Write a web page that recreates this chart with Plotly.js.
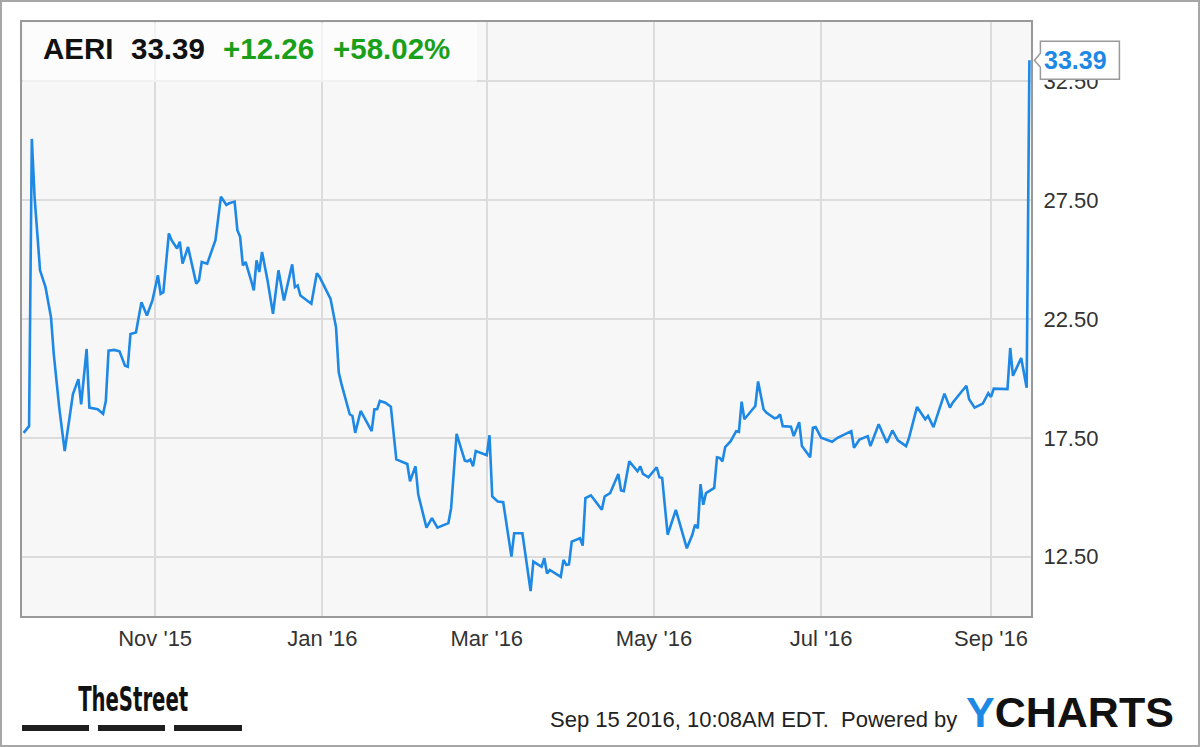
<!DOCTYPE html>
<html>
<head>
<meta charset="utf-8">
<script src="https://cdn.plot.ly/plotly-3.0.1.min.js"></script>
<style>
html,body{margin:0;padding:0;background:#fff;}
#chart{width:1200px;height:747px;}
</style>
</head>
<body>
<div id="chart"></div>
<script>
// ---------------- data ----------------
const dates = [
'2015-09-14','2015-09-16','2015-09-17','2015-09-18','2015-09-20','2015-09-22','2015-09-24','2015-09-25','2015-09-27','2015-09-29',
'2015-10-02','2015-10-04','2015-10-05','2015-10-07','2015-10-08','2015-10-11','2015-10-13','2015-10-14','2015-10-15','2015-10-17',
'2015-10-19','2015-10-21','2015-10-22','2015-10-23','2015-10-25','2015-10-27','2015-10-29','2015-10-31','2015-11-02','2015-11-03',
'2015-11-04','2015-11-06','2015-11-07','2015-11-09','2015-11-10','2015-11-11','2015-11-13','2015-11-14','2015-11-16','2015-11-17',
'2015-11-18','2015-11-20','2015-11-22','2015-11-23','2015-11-25','2015-11-27','2015-11-28','2015-11-30','2015-12-01','2015-12-02',
'2015-12-03','2015-12-04','2015-12-06','2015-12-07','2015-12-08','2015-12-09','2015-12-10','2015-12-12','2015-12-14','2015-12-16',
'2015-12-18','2015-12-21','2015-12-22','2015-12-23','2015-12-24','2015-12-28','2015-12-30','2015-12-31','2016-01-04','2016-01-06',
'2016-01-07','2016-01-08','2016-01-11','2016-01-12','2016-01-13','2016-01-15','2016-01-19','2016-01-20','2016-01-21','2016-01-22',
'2016-01-24','2016-01-26','2016-01-28','2016-02-01','2016-02-02','2016-02-04','2016-02-05','2016-02-08','2016-02-10','2016-02-12',
'2016-02-16','2016-02-17','2016-02-19','2016-02-22','2016-02-23','2016-02-24','2016-02-25','2016-02-26','2016-03-01','2016-03-02',
'2016-03-03','2016-03-05','2016-03-07','2016-03-10','2016-03-11','2016-03-14','2016-03-17','2016-03-18','2016-03-21','2016-03-22',
'2016-03-23','2016-03-24','2016-03-28','2016-03-29','2016-03-30','2016-03-31','2016-04-01','2016-04-04','2016-04-05','2016-04-06',
'2016-04-08','2016-04-12','2016-04-13','2016-04-15','2016-04-18','2016-04-19','2016-04-20','2016-04-22','2016-04-25','2016-04-26',
'2016-04-27','2016-04-29','2016-05-02','2016-05-03','2016-05-04','2016-05-06','2016-05-09','2016-05-13','2016-05-15','2016-05-16',
'2016-05-17','2016-05-18','2016-05-19','2016-05-20','2016-05-23','2016-05-24','2016-05-25','2016-05-26','2016-05-27','2016-05-29',
'2016-05-31','2016-06-01','2016-06-02','2016-06-03','2016-06-06','2016-06-07','2016-06-08','2016-06-09','2016-06-10','2016-06-11',
'2016-06-14','2016-06-15','2016-06-16','2016-06-17','2016-06-20','2016-06-21','2016-06-23','2016-06-24','2016-06-27','2016-06-28',
'2016-06-29','2016-07-01','2016-07-05','2016-07-07','2016-07-12','2016-07-13','2016-07-15','2016-07-18','2016-07-19','2016-07-22',
'2016-07-25','2016-07-27','2016-07-29','2016-08-01','2016-08-02','2016-08-05','2016-08-08','2016-08-09','2016-08-11','2016-08-15',
'2016-08-17','2016-08-18','2016-08-23','2016-08-24','2016-08-26','2016-08-29','2016-08-31','2016-09-01','2016-09-02','2016-09-07',
'2016-09-08','2016-09-09','2016-09-12','2016-09-14','2016-09-15'
];
const prices = [
17.71,17.99,30.08,27.65,24.55,23.84,22.57,21.03,18.77,16.94,
19.34,19.97,18.91,21.24,18.77,18.70,18.51,19.05,21.17,21.20,
21.14,20.53,20.49,21.87,21.93,23.21,22.65,23.28,24.34,23.56,
23.63,26.10,25.82,25.47,25.75,24.83,25.53,24.97,23.99,24.13,
24.90,24.83,25.53,25.82,27.65,27.30,27.37,27.44,26.24,25.96,
24.76,24.90,24.13,23.70,24.97,24.48,25.32,24.13,22.72,24.55,
23.28,24.80,23.84,23.91,23.49,23.14,24.43,24.27,23.35,22.15,
20.25,19.76,18.49,18.42,17.71,18.63,17.78,18.70,18.70,19.05,
18.98,18.81,16.59,16.40,15.67,16.30,15.11,13.72,14.12,13.72,
13.91,14.54,17.67,16.54,16.51,16.59,16.30,16.94,16.77,17.61,
15.03,14.82,14.79,12.50,13.48,13.48,11.05,12.29,12.07,12.43,
11.79,11.94,11.65,12.36,12.15,12.17,13.13,13.27,12.96,14.96,
15.08,14.47,15.03,15.17,15.98,15.28,15.25,16.51,16.09,16.30,
15.98,15.84,16.26,15.84,15.81,13.42,14.47,12.85,13.42,13.84,
13.69,15.55,14.68,15.17,15.39,16.68,16.65,16.51,17.11,17.36,
17.78,17.75,19.02,18.28,18.70,18.84,19.87,19.34,18.70,18.56,
18.32,18.35,18.49,17.99,17.97,17.57,18.16,17.15,16.68,17.92,
17.95,17.50,17.33,17.50,17.78,17.08,17.43,17.57,17.15,18.07,
17.29,17.81,17.39,17.15,17.47,18.80,18.28,18.42,17.95,19.36,
18.77,18.98,19.69,19.12,18.77,18.94,19.38,19.22,19.57,19.55,
21.28,20.11,20.86,19.61,33.39
];
const xTickVals = ['2015-11-01','2016-01-01','2016-03-01','2016-05-01','2016-07-01','2016-09-01'];
const xTickText = ["Nov '15","Jan '16","Mar '16","May '16","Jul '16","Sep '16"];
const yTickVals = [12.5,17.5,22.5,27.5,32.5];
const yTickText = ['12.50','17.50','22.50','27.50','32.50'];
const ticker = 'AERI';
const lastPrice = '33.39';
const changeAbs = '+12.26';
const changePct = '+58.02%';
const footerText = 'Sep 15 2016, 10:08AM EDT.  Powered by';

// ---------------- layout helpers ----------------
const W = 1200, H = 747;
const PL = 22, PT = 22, PW = 1009, PH = 594;
const px = x => (x - PL) / PW;
const py = y => (PT + PH - y) / PH;
const xRange = ['2015-09-13 10:00', '2016-09-15 14:00'];
const yRange = [10, 35];
const t0 = Date.parse('2015-09-13T10:00:00Z'), t1 = Date.parse('2016-09-15T14:00:00Z');
const lastDate = dates[dates.length - 1];
const lastVal = prices[prices.length - 1];
const lastPX = (Date.parse(lastDate + 'T00:00:00Z') - t0) / (t1 - t0);
const lastPY = (lastVal - yRange[0]) / (yRange[1] - yRange[0]);

const FONT = 'Liberation Sans, Arial, Helvetica, sans-serif';
const BLUE = '#1e88e5';
const GREEN = '#1a9f1a';

const trace = {
  type: 'scatter', mode: 'lines', x: dates, y: prices,
  line: {color: BLUE, width: 2.6, shape: 'linear'},
  hoverinfo: 'skip'
};

const shapes = [
  // header band
  {type: 'rect', xref: 'paper', yref: 'paper', x0: px(23), x1: px(477), y0: py(82), y1: py(23),
   fillcolor: 'rgba(255,255,255,0.6)', line: {width: 0}, layer: 'above'},
  // callout box with notch
  {type: 'path', xref: 'paper', yref: 'paper', xsizemode: 'pixel', ysizemode: 'pixel',
   xanchor: lastPX, yanchor: lastPY,
   path: 'M 5 0 L 11 7 L 11 19 L 90 19 L 90 -19 L 11 -19 L 11 -7 Z',
   fillcolor: '#ffffff', line: {color: '#9a9a9a', width: 1.5}, layer: 'above'},
  // outer frame
  {type: 'rect', xref: 'paper', yref: 'paper', x0: px(1), x1: px(W - 1), y0: py(H - 1), y1: py(1),
   line: {color: '#a6a6a6', width: 2}, fillcolor: 'rgba(0,0,0,0)', layer: 'above'},
  // TheStreet bars
  {type: 'rect', xref: 'paper', yref: 'paper', x0: px(22), x1: px(89), y0: py(731), y1: py(725),
   fillcolor: '#1e1e1e', line: {width: 0}},
  {type: 'rect', xref: 'paper', yref: 'paper', x0: px(98), x1: px(165), y0: py(731), y1: py(725),
   fillcolor: '#1e1e1e', line: {width: 0}},
  {type: 'rect', xref: 'paper', yref: 'paper', x0: px(174), x1: px(242), y0: py(731), y1: py(725),
   fillcolor: '#1e1e1e', line: {width: 0}}
];

const hdrFont = (c) => ({family: FONT, size: 29.5, color: c, weight: 'bold'});
const annotations = [
  {xref: 'paper', yref: 'paper', x: px(41), y: py(49), xanchor: 'left', yanchor: 'middle',
   text: '<b>' + ticker + '</b>', showarrow: false, font: hdrFont('#111111')},
  {xref: 'paper', yref: 'paper', x: px(129), y: py(49), xanchor: 'left', yanchor: 'middle',
   text: '<b>' + lastPrice + '</b>', showarrow: false, font: hdrFont('#111111')},
  {xref: 'paper', yref: 'paper', x: px(221), y: py(49), xanchor: 'left', yanchor: 'middle',
   text: '<b>' + changeAbs + '</b>', showarrow: false, font: hdrFont(GREEN)},
  {xref: 'paper', yref: 'paper', x: px(331), y: py(49), xanchor: 'left', yanchor: 'middle',
   text: '<b>' + changePct + '</b>', showarrow: false, font: hdrFont(GREEN)},
  // callout text
  {xref: 'x', yref: 'y', x: lastDate, y: lastVal, xanchor: 'left', yanchor: 'middle', xshift: 13,
   text: '<b>' + lastPrice + '</b>', showarrow: false,
   font: {family: FONT, size: 25, color: BLUE}},
  // footer
  {xref: 'paper', yref: 'paper', x: px(959), y: py(719), xanchor: 'right', yanchor: 'middle',
   text: footerText.replace(/  /g, ' &nbsp;'), showarrow: false,
   font: {family: FONT, size: 22, color: '#222222'}},
  {xref: 'paper', yref: 'paper', x: px(964), y: py(712), xanchor: 'left', yanchor: 'middle',
   text: '<b><span style="color:' + BLUE + '">Y</span>CHARTS</b>', showarrow: false,
   font: {family: FONT, size: 43, color: '#111111'}},
  {xref: 'paper', yref: 'paper', x: px(133), y: py(699), xanchor: 'center', yanchor: 'middle',
   text: '<b>TheStreet</b>', showarrow: false,
   font: {family: 'Liberation Sans Narrow, DejaVu Sans Condensed, Arial Narrow, sans-serif', size: 33, color: '#111111'}}
];

const layout = {
  width: W, height: H,
  margin: {l: PL, r: W - PL - PW, t: PT, b: H - PT - PH, pad: 0},
  paper_bgcolor: '#ffffff', plot_bgcolor: '#f7f7f7',
  showlegend: false,
  font: {family: FONT, color: '#333333'},
  xaxis: {
    type: 'date', range: xRange, tickmode: 'array', tickvals: xTickVals, ticktext: xTickText,
    showgrid: true, gridcolor: '#dcdcdc', gridwidth: 2, zeroline: false,
    showline: true, linecolor: '#999999', linewidth: 2, mirror: true,
    ticks: '', ticklabelstandoff: 2, tickfont: {family: FONT, size: 22, color: '#333333'},
    fixedrange: true
  },
  yaxis: {
    range: yRange, side: 'right', tickmode: 'array', tickvals: yTickVals, ticktext: yTickText,
    showgrid: true, gridcolor: '#dcdcdc', gridwidth: 2, zeroline: false,
    showline: true, linecolor: '#999999', linewidth: 2, mirror: true,
    ticks: '', ticklabelstandoff: 6, tickfont: {family: FONT, size: 22, color: '#333333'},
    fixedrange: true
  },
  shapes: shapes,
  annotations: annotations
};

Plotly.newPlot('chart', [trace], layout, {displayModeBar: false, staticPlot: true}).then(function (gd) {
  // compress the condensed "TheStreet" wordmark to its logo width
  gd.querySelectorAll('.annotation-text').forEach(function (t) {
    if (t.textContent === 'TheStreet') {
      t.setAttribute('textLength', '110');
      t.setAttribute('lengthAdjust', 'spacingAndGlyphs');
      t.querySelectorAll('tspan').forEach(function (s) {
        s.setAttribute('textLength', '110');
        s.setAttribute('lengthAdjust', 'spacingAndGlyphs');
      });
    }
  });
});
</script>
</body>
</html>
